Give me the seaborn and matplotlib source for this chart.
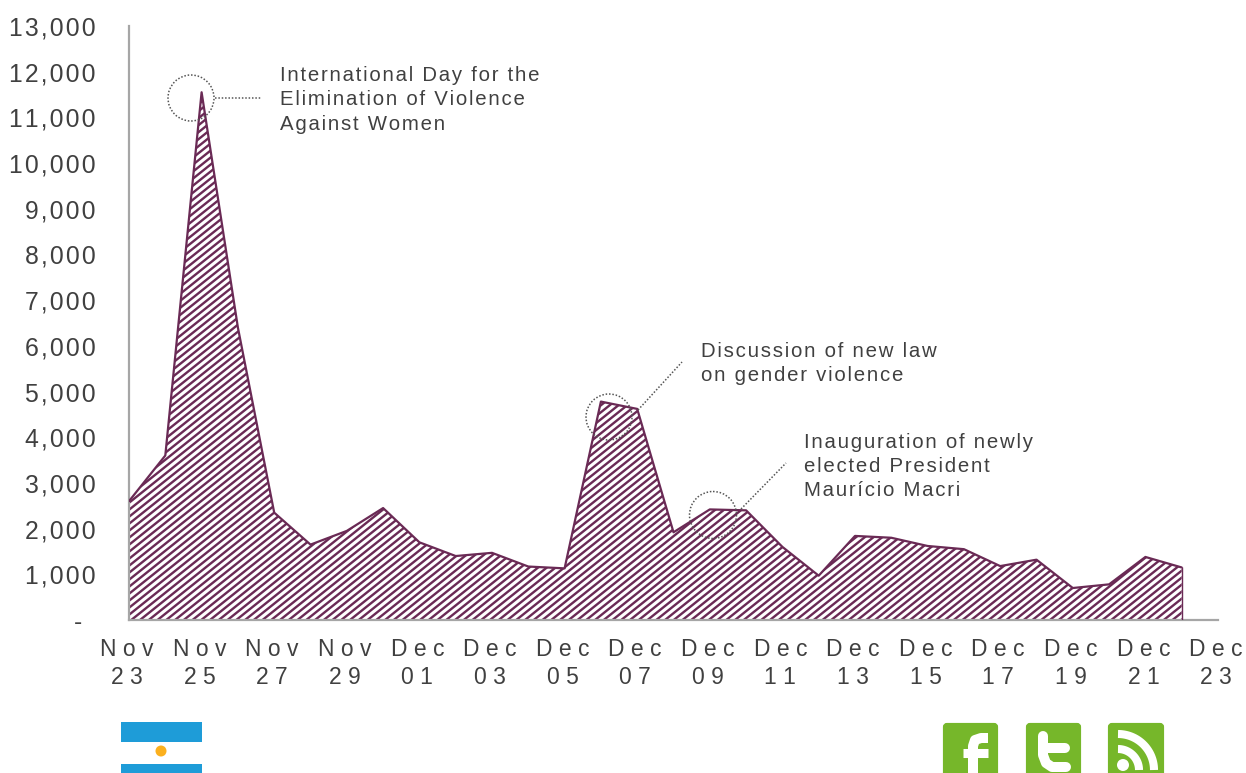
import numpy as np
import pandas as pd
import matplotlib
matplotlib.use("Agg")
import matplotlib.pyplot as plt
import seaborn as sns
from matplotlib.patches import Ellipse, Rectangle, FancyBboxPatch, Polygon
from matplotlib.collections import LineCollection
from matplotlib.transforms import IdentityTransform, ScaledTranslation

days = ["Nov 23","Nov 24","Nov 25","Nov 26","Nov 27","Nov 28","Nov 29","Nov 30",
        "Dec 01","Dec 02","Dec 03","Dec 04","Dec 05","Dec 06","Dec 07","Dec 08",
        "Dec 09","Dec 10","Dec 11","Dec 12","Dec 13","Dec 14","Dec 15","Dec 16",
        "Dec 17","Dec 18","Dec 19","Dec 20","Dec 21","Dec 22"]
mentions = [2600,3600,11550,6400,2350,1650,1950,2450,1700,1400,1470,1170,1130,4780,4620,
            1920,2420,2400,1600,970,1840,1800,1620,1550,1180,1320,700,780,1380,1150]
xtick_labels = ["N o v\n2 3","N o v\n2 5","N o v\n2 7","N o v\n2 9","D e c\n0 1","D e c\n0 3",
                "D e c\n0 5","D e c\n0 7","D e c\n0 9","D e c\n1 1","D e c\n1 3","D e c\n1 5",
                "D e c\n1 7","D e c\n1 9","D e c\n2 1","D e c\n2 3"]
ytick_values = list(range(0, 14000, 1000))
notes = ["International Day for the\nElimination of Violence\nAgainst Women",
         "Discussion of new law\non gender violence",
         "Inauguration of newly\nelected President\nMaurício Macri"]

W, H = 1246, 773
PLUM = "#6a2a55"
TXT = "#404040"
GREY = "#a6a6a6"
HAIR = "\u200a"
sns.set_theme(style="white")
plt.rcParams["font.family"] = ["Liberation Sans", "DejaVu Sans"]

def spaced(s, gap=HAIR):
    return "\n".join(gap.join(line) for line in s.split("\n"))

fig = plt.figure(figsize=(W/100, H/100), dpi=100, facecolor="white")
ax = fig.add_axes([129/W, 1-620/H, (1218-129)/W, (620-26)/H])
df = pd.DataFrame({"day": np.arange(len(days)), "mentions": mentions})

ax.set_xlim(0, 30)
ax.set_ylim(0, 13000)

# striped area: diagonal lines clipped to the area polygon
xs = df["day"].to_numpy()
ys = df["mentions"].to_numpy()
poly = Polygon(np.column_stack([np.r_[xs[0], xs, xs[-1]], np.r_[0, ys, 0]]),
               closed=True, transform=ax.transData, fc="none", ec="none")
ax.add_patch(poly)
period = 7.0
slope = 0.8
segs = [[(0, c), (W, c + slope*W)] for c in np.arange(-1100, H + 50, period)]
lc = LineCollection(segs, colors=PLUM, linewidths=1.7, transform=IdentityTransform(), zorder=2)
ax.add_collection(lc, autolim=False)
lc.set_clip_path(poly)

sns.lineplot(data=df, x="day", y="mentions", ax=ax, color=PLUM, lw=1.6, zorder=3, legend=False)
ax.vlines(xs[-1], 0, ys[-1], color=PLUM, lw=1.0, zorder=3)

ax.set_xlabel(""); ax.set_ylabel("")
ax.set_xticks(np.arange(0, 31, 2))
ax.set_xticklabels(xtick_labels, fontsize=16.5, color=TXT, linespacing=1.3)
ax.set_yticks(ytick_values)
ax.set_yticklabels(["-  "] + [spaced(f"{v:,}") for v in ytick_values[1:]], fontsize=17.8, color=TXT)
ax.tick_params(axis="x", length=0, pad=13)
ax.tick_params(axis="y", length=0, pad=24)
shift = ScaledTranslation(-2/100, 0, fig.dpi_scale_trans)
for lab in ax.get_xticklabels():
    lab.set_transform(lab.get_transform() + shift)
sns.despine(ax=ax)
for s in ("left", "bottom"):
    ax.spines[s].set_color(GREY)
    ax.spines[s].set_linewidth(1.6)

ov = fig.add_axes([0, 0, 1, 1], facecolor="none")
ov.set_xlim(0, W); ov.set_ylim(H, 0); ov.axis("off")

DOT = dict(color="#555555", lw=1.1, ls=(0, (1, 1.2)))
for cx, cy, r in [(191, 98, 23), (609, 417, 23), (713, 515, 23.5)]:
    ov.add_patch(Ellipse((cx, cy), 2*r, 2*r, fc="none", ec="#555555", lw=1.1, ls=(0, (1, 1.2)), zorder=5))
ov.plot([215, 261], [98, 98], **DOT)
ov.plot([638, 682], [410, 362], **DOT)
ov.plot([741, 786], [509, 463], **DOT)

for (x, y), s in zip([(280, 66), (701, 342), (804, 433)], notes):
    ov.text(x, y, spaced(s), fontsize=14.7, color=TXT, va="top", ha="left", linespacing=1.35)

# flag
ov.add_patch(Rectangle((121, 722), 81, 20, fc="#1e9cd8", ec="none"))
ov.add_patch(Rectangle((121, 764), 81, 12, fc="#1e9cd8", ec="none"))
ov.add_patch(Ellipse((161, 751), 11, 11, fc="#fbb01e", ec="none"))

# social icons
GREEN = "#76b72a"
for x0, x1 in [(943, 998), (1026, 1081), (1108, 1164)]:
    ov.add_patch(FancyBboxPatch((x0+2, 725), x1-x0-4, 60, boxstyle="round,pad=0,rounding_size=2",
                                fc=GREEN, ec=GREEN, lw=3))
ov.plot([988, 981, 975, 973, 973], [738, 738, 740, 746, 782], lw=7.2, color="white",
        solid_capstyle="butt", solid_joinstyle="round", zorder=6)
ov.plot([963, 988], [752.5, 752.5], lw=6.5, color="white", solid_capstyle="butt", zorder=6)
ov.plot([1043, 1043, 1046, 1052, 1066], [736, 755, 763, 767, 767], lw=7.2, color="white",
        solid_capstyle="round", solid_joinstyle="round", zorder=6)
ov.plot([1043, 1065], [748, 748], lw=7.2, color="white", solid_capstyle="round", zorder=6)
ov.add_patch(Ellipse((1123, 765), 12, 12, fc="white", ec="none", zorder=6))
th = np.linspace(-np.pi/2, 0, 40)
for r in (21, 36):
    ov.plot(1118 + r*np.cos(th), 770 + r*np.sin(th), lw=5.8, color="white", solid_capstyle="butt", zorder=6)

fig.savefig("out.png", dpi=100, facecolor="white")
